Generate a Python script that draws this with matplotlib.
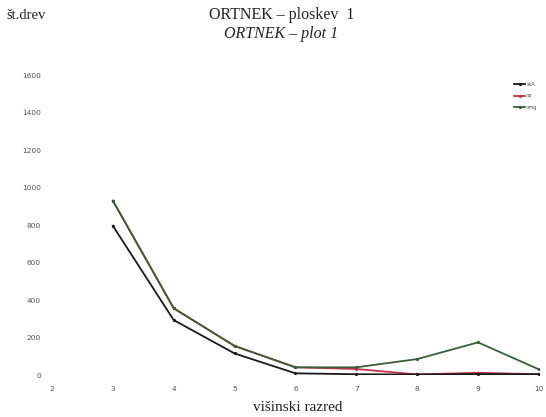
import matplotlib
matplotlib.use("Agg")
import matplotlib.pyplot as plt

classes = [3, 4, 5, 6, 7, 8, 9, 10]
series_labels = ["skA", "sp", "smg"]
black_vals = [796, 293, 115, 9, 4, 3, 5, 4]
red_vals = [930, 356, 155, 41, 32, 3, 12, 4]
green_vals = [930, 356, 155, 41, 41, 85, 174, 30]
yticks = [0, 200, 400, 600, 800, 1000, 1200, 1400, 1600]
xticks = [2, 3, 4, 5, 6, 7, 8, 9, 10]

fig = plt.figure(figsize=(5.46, 4.17), dpi=100)
ax = fig.add_axes([0.0952, 0.1007, 0.8918, 0.7193])

ax.plot(classes, black_vals, color="#1a1a1a", lw=1.3, marker="o", ms=1.3, label=series_labels[0], zorder=3)
ax.plot(classes, red_vals, color="#c8324a", lw=1.3, marker="o", ms=1.3, label=series_labels[1], zorder=2)
ax.plot(classes, green_vals, color="#3a5e3a", lw=1.3, marker="o", ms=1.3, label=series_labels[2], zorder=2.5)

ax.set_xlim(2, 10)
ax.set_ylim(0, 1600)
ax.set_xticks(xticks)
ax.set_yticks(yticks)
ax.tick_params(length=0, labelsize=5.3, labelcolor="#555555")
ax.tick_params(axis="y", pad=8)
ax.tick_params(axis="x", pad=8)
for s in ax.spines.values():
    s.set_visible(False)

leg = ax.legend(loc="upper right", bbox_to_anchor=(1.0, 0.985), frameon=False,
                fontsize=3.5, handlelength=2.2, handletextpad=0.3, labelspacing=1.4,
                borderaxespad=0.0)
for t in leg.get_texts():
    t.set_color("#555555")

fig.text(0.515, 0.965, "ORTNEK – ploskev  1", ha="center", va="center",
         family="Liberation Serif", fontsize=11.5, color="#222222")
fig.text(0.515, 0.918, "ORTNEK – plot 1", ha="center", va="center",
         family="Liberation Serif", style="italic", fontsize=11.5, color="#222222")
fig.text(0.012, 0.962, "št.drev", ha="left", va="center",
         family="Liberation Serif", fontsize=10.5, color="#222222")
fig.text(0.545, 0.022, "višinski razred", ha="center", va="center",
         family="Liberation Serif", fontsize=11, color="#222222")

fig.savefig("out.png", dpi=100)
